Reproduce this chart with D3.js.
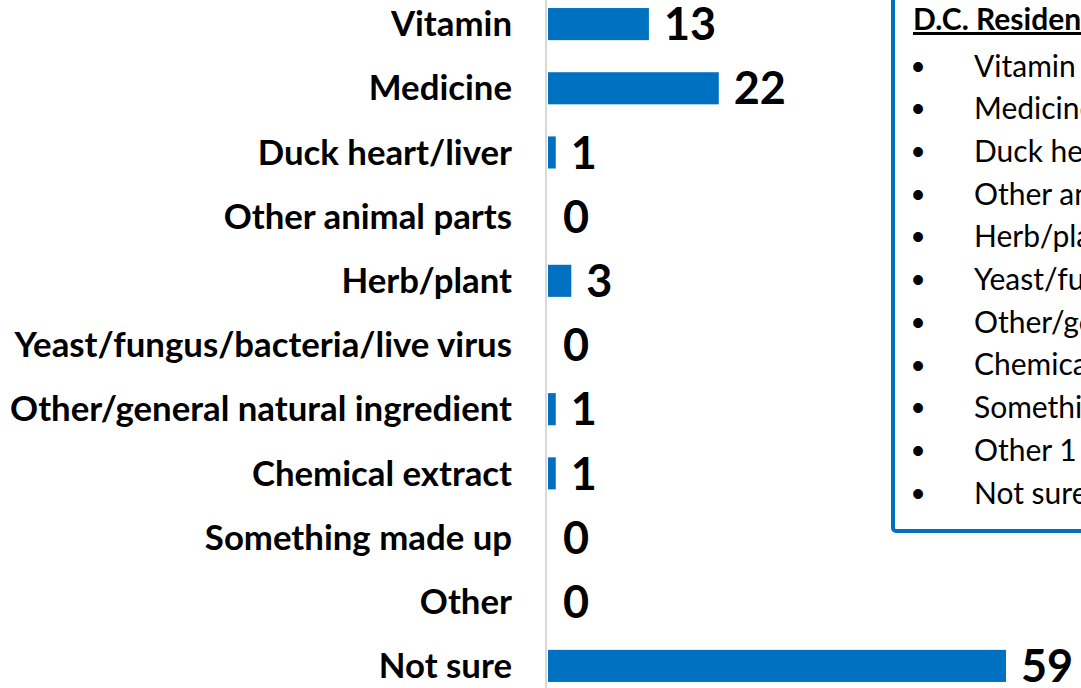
<!DOCTYPE html>
<html>
<head>
<meta charset="utf-8">
<script src="https://cdn.jsdelivr.net/npm/d3@7"></script>
<style>
  html, body { margin: 0; padding: 0; background: #fff; overflow: hidden; }
  svg { display: block; }
</style>
</head>
<body>
<svg id="chart" width="1081" height="688"></svg>
<script>
"use strict";

// chart data
const categories = [
    "Vitamin",
    "Medicine",
    "Duck heart/liver",
    "Other animal parts",
    "Herb/plant",
    "Yeast/fungus/bacteria/live virus",
    "Other/general natural ingredient",
    "Chemical extract",
    "Something made up",
    "Other",
    "Not sure"
];
const values = [13, 22, 1, 0, 3, 0, 1, 1, 0, 0, 59];

// text box on the right (cut off by the page edge)
const boxTitle = "D.C. Residents";
const boxItems = [
    "Vitamin",
    "Medicine",
    "Duck heart/liver",
    "Other animal parts",
    "Herb/plant",
    "Yeast/fungus/bacteria/live virus",
    "Other/general natural ingredient",
    "Chemical extract",
    "Something made up",
    "Other 1",
    "Not sure"
];

const barColor = "#0070C0";
const fontFamily = "Lato, 'Open Sans', 'Noto Sans', sans-serif";

let svg = d3.select("#chart");

let scaleX = d3.scaleLinear()
    .domain([0, 59])
    .range([548, 1006]);

let scaleY = d3.scaleBand()
    .domain(categories)
    .range([-8, 698])
    .paddingInner(0.5)
    .paddingOuter(0.25);

// vertical axis line
svg.append("line")
    .attr("x1", 546).attr("x2", 546)
    .attr("y1", 0).attr("y2", 688)
    .attr("stroke", "#d9d9d9")
    .attr("stroke-width", 2);

// bars
svg.selectAll("rect.bar")
    .data(values)
    .enter()
    .append("rect")
    .attr("class", "bar")
    .attr("x", scaleX(0))
    .attr("y", (d, i) => scaleY(categories[i]))
    .attr("width", d => scaleX(d) - scaleX(0))
    .attr("height", scaleY.bandwidth())
    .attr("fill", barColor);

// category labels, sized so the longest one fits left of the axis
let catAxis = svg.append("g")
    .attr("class", "yAxis")
    .attr("transform", "translate(512, 0)")
    .call(d3.axisLeft(scaleY).tickSize(0).tickPadding(0));
catAxis.select(".domain").remove();
let catText = catAxis.selectAll("text")
    .attr("font-family", fontFamily)
    .attr("font-weight", "bold")
    .attr("font-size", 100)
    .attr("fill", "#000")
    .attr("dy", "0.35em");
let widest = d3.max(catText.nodes(), n => n.getComputedTextLength());
catText.attr("font-size", 100 * 502 / widest);

// value labels
svg.selectAll("text.value")
    .data(values)
    .enter()
    .append("text")
    .attr("class", "value")
    .attr("x", d => scaleX(d) + 15)
    .attr("y", (d, i) => scaleY(categories[i]) + scaleY.bandwidth() / 2)
    .attr("dy", "0.36em")
    .attr("font-family", fontFamily)
    .attr("font-weight", "bold")
    .attr("font-size", 45)
    .attr("fill", "#000")
    .text(d => d);

// text box
let box = svg.append("g").attr("class", "textbox");
box.append("rect")
    .attr("x", 893)
    .attr("y", -20)
    .attr("width", 300)
    .attr("height", 551)
    .attr("rx", 3)
    .attr("fill", "#fff")
    .attr("stroke", barColor)
    .attr("stroke-width", 4);

box.append("text")
    .attr("x", 913)
    .attr("y", 30)
    .attr("font-family", fontFamily)
    .attr("font-weight", "bold")
    .attr("font-size", 30)
    .attr("text-decoration", "underline")
    .attr("fill", "#000")
    .text(boxTitle);

let rowY = d3.scalePoint()
    .domain(d3.range(boxItems.length))
    .range([66, 493]);

let rows = box.selectAll("g.row")
    .data(boxItems)
    .enter()
    .append("g")
    .attr("class", "row")
    .attr("transform", (d, i) => `translate(0, ${rowY(i)})`);
rows.append("text")
    .attr("x", 918)
    .attr("dy", "0.35em")
    .attr("text-anchor", "middle")
    .attr("font-family", "Arial, 'Liberation Sans', sans-serif")
    .attr("font-size", 36)
    .attr("fill", "#000")
    .text("\u2022");
rows.append("text")
    .attr("x", 974)
    .attr("dy", "0.35em")
    .attr("font-family", fontFamily)
    .attr("font-size", 30)
    .attr("fill", "#000")
    .text(d => d);
</script>
</body>
</html>
